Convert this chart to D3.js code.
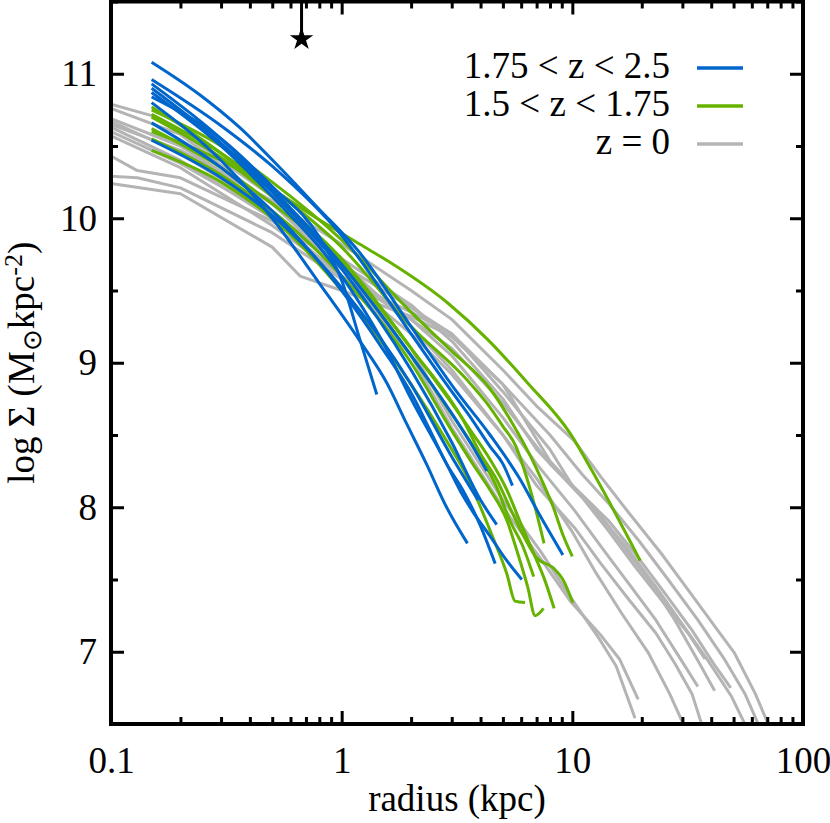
<!DOCTYPE html>
<html>
<head>
<meta charset="utf-8">
<script src="https://cdn.jsdelivr.net/npm/d3@7"></script>
<style>
  body { margin: 0; background: #fff; }
  text { font-family: "Liberation Serif", "Times New Roman", serif; fill: #000; }
</style>
</head>
<body>
<div id="chart"></div>
<script>
// surface density profiles, radius in kpc, log Sigma in Msun/kpc^2

var blueCurves = [
  [[0.15,11.08],[0.24,10.86],[0.36,10.63],[0.54,10.35],[0.78,10.08],[1.2,9.76],[2,9.25],[3.15,8.8],[4.4,8.5],[5.9,8.2],[7.2,7.95],[9.1,7.67]],
  [[0.15,10.96],[0.3,10.64],[0.5,10.36],[1,9.88],[2,9.2],[2.85,8.85],[3.7,8.6],[4.4,8.42],[5,8.3],[5.5,8.15]],
  [[0.15,10.93],[0.3,10.55],[0.5,10.2],[1,9.68],[2,9.05],[3,8.65],[3.7,8.42],[4.26,8.25]],
  [[0.15,10.84],[0.3,10.55],[0.5,10.22],[0.8,9.87],[1,9.57],[1.2,9.16],[1.42,8.78]],
  [[0.15,10.8],[0.3,10.4],[0.5,10.0],[0.8,9.55],[1.2,9.15],[1.57,8.86],[1.91,8.58],[2.33,8.3],[2.85,8.0],[3.51,7.75]],
  [[0.15,10.66],[0.3,10.35],[0.5,10.05],[1,9.5],[1.5,9.1],[2.05,8.76],[2.42,8.53],[2.85,8.3],[3.35,8.12],[4.0,7.87],[4.63,7.61]],
  [[0.15,10.87],[0.3,10.5],[0.5,10.15],[1,9.6],[1.5,9.15],[2,8.75],[2.85,8.3],[3.3,8.1],[3.7,7.97],[4.4,7.8],[5.2,7.63],[6.04,7.5]],
  [[0.15,10.9],[0.3,10.52],[0.5,10.18],[1,9.65],[2,8.95],[3,8.45],[4,8.05],[4.7,7.88]],
  [[0.15,10.54],[0.3,10.28],[0.5,10.02],[1,9.52],[2,8.85],[3,8.35],[3.9,8.05]]
];

var greenCurves = [
  [[0.15,10.6],[0.3,10.4],[0.5,10.2],[0.8,9.99],[1.2,9.82],[1.6,9.7],[2.9,9.41],[4.3,9.16],[6.4,8.86],[9.8,8.51],[12.3,8.24],[19.7,7.63]],
  [[0.15,10.47],[0.3,10.25],[0.5,10.0],[1,9.5],[2,8.85],[2.85,8.46],[3.37,8.26],[4,8.0],[4.5,7.8],[5.2,7.54],[5.65,7.35],[6.24,7.34]],
  [[0.15,10.55],[0.3,10.3],[0.5,10.05],[1,9.6],[2,9.0],[3,8.53],[3.7,8.3],[4.4,8.12],[5.2,7.91],[5.8,7.68],[6.4,7.45],[6.9,7.25],[7.5,7.3]],
  [[0.15,10.62],[0.3,10.35],[0.5,10.1],[1,9.7],[2,9.1],[3,8.72],[3.7,8.51],[4.4,8.33],[5.2,8.12],[5.9,7.91],[6.8,7.68],[7.5,7.52],[8.34,7.3]],
  [[0.15,10.7],[0.3,10.42],[0.5,10.15],[1,9.72],[2,9.1],[3.37,8.6],[4,8.37],[4.7,8.19],[5.5,7.96],[6.3,7.77],[7,7.65],[8.27,7.58],[9.1,7.5],[10.05,7.34]],
  [[0.15,10.77],[0.3,10.45],[0.5,10.15],[1,9.68],[2,9.05],[3.14,8.6],[3.98,8.35],[4.7,8.14],[5.35,7.91],[6.1,7.73],[6.8,7.52]],
  [[0.15,10.72],[0.3,10.45],[0.5,10.2],[1,9.8],[2,9.25],[3.5,8.88],[4.26,8.72],[5,8.56],[5.7,8.42],[6.3,8.22],[7,7.96],[7.54,7.75]],
  [[0.15,10.75],[0.3,10.5],[0.5,10.25],[1,9.85],[2,9.35],[3,9.08],[4.4,8.82],[5.5,8.58],[6.6,8.35],[7.5,8.16],[8.27,8.0],[9.1,7.81],[10,7.66]]
];

var grayCurves = [
  [[0.1,10.79],[0.15,10.71],[0.2,10.6],[0.5,10.15],[1,9.72],[2,9.1],[3,8.6],[5,8.05],[7.25,7.7],[9.8,7.38],[13.2,7.08],[15.5,6.9],[18.7,6.54]],
  [[0.1,10.76],[0.2,10.58],[0.5,10.1],[1,9.65],[2,9.05],[3,8.55],[5,8.0],[7.25,7.65],[9.8,7.35],[13.2,7.12],[16,6.95],[19.3,6.67]],
  [[0.1,10.69],[0.2,10.5],[0.5,10.1],[1,9.7],[2,9.25],[3,8.95],[5,8.5],[7,8.2],[9.9,7.84],[12.5,7.56],[16.3,7.27],[21.4,6.99],[26.4,6.71],[31.3,6.45]],
  [[0.1,10.67],[0.2,10.45],[0.5,10.05],[1,9.65],[2,9.3],[3,9.05],[5,8.62],[7,8.3],[10.2,7.98],[13.3,7.73],[17.6,7.47],[23,7.22],[29.7,6.94],[35,6.76]],
  [[0.1,10.63],[0.2,10.4],[0.5,10.0],[1,9.6],[2,9.2],[3,8.92],[5,8.5],[7,8.15],[10.2,7.86],[13.3,7.61],[17.6,7.36],[23,7.13],[27.8,6.92],[33,6.71],[37.2,6.45]],
  [[0.1,10.6],[0.2,10.38],[0.5,10.02],[1,9.72],[2,9.4],[3,9.15],[5,8.75],[7,8.4],[11,8.07],[14.3,7.84],[18.7,7.59],[24.3,7.36],[31.7,7.13],[37.6,6.95]],
  [[0.1,10.57],[0.2,10.35],[0.5,9.95],[1,9.6],[2,9.3],[3,9.1],[5,8.72],[8,8.3],[12.5,8.0],[16.3,7.75],[21.4,7.5],[27.8,7.22],[35,6.94],[41.4,6.73]],
  [[0.1,10.43],[0.13,10.33],[0.2,10.28],[0.5,9.98],[1,9.68],[2,9.38],[3,9.2],[5,8.8],[8,8.4],[10,8.15],[14.3,7.91],[18.7,7.68],[25.3,7.4],[33,7.15],[41.7,6.9],[48.6,6.75]],
  [[0.1,10.29],[0.13,10.28],[0.2,10.21],[0.5,9.9],[1,9.58],[2,9.35],[3,9.2],[5,8.85],[8,8.32],[12.5,7.98],[17,7.73],[23,7.45],[29.7,7.2],[38.7,6.94],[49,6.69],[58,6.45]],
  [[0.1,10.24],[0.2,10.17],[0.5,9.8],[0.66,9.6],[1,9.5],[2,9.32],[3,9.18],[5,8.85],[8,8.5],[11,8.23],[14.3,8.03],[19.4,7.77],[26,7.5],[35,7.22],[46,6.94],[56,6.71],[66,6.45]],
  [[0.1,10.65],[0.2,10.47],[0.5,10.12],[1,9.82],[2,9.5],[3,9.3],[5,8.95],[7,8.7],[10.2,8.46],[13.3,8.21],[17.6,7.96],[24.3,7.68],[31.7,7.43],[41.7,7.17],[50.5,6.99],[62.1,6.71],[72.8,6.45]]
];

var legendLabels = ["1.75 < z < 2.5", "1.5 < z < 1.75", "z = 0"];
var legendColors = ["#0066cc", "#66b200", "#b4b4b4"];

var xMajor = [0.1, 1, 10, 100];
var xMajorLabels = ["0.1", "1", "10", "100"];
var yMajor = [7, 8, 9, 10, 11];

var star = {r: 0.67, v: 11.24};

var margin = {top: 1.5, right: 27, bottom: 99, left: 111},
    width = 830 - margin.left - margin.right,
    height = 823 - margin.top - margin.bottom;

var x = d3.scaleLog().domain([0.1, 100]).range([0, width]);
var y = d3.scaleLinear().domain([6.5, 11.5]).range([height, 0]);

var svg = d3.select("#chart").append("svg")
    .attr("width", 830)
    .attr("height", 823)
  .append("g")
    .attr("transform", "translate(" + margin.left + "," + margin.top + ")");

svg.append("clipPath").attr("id", "clip")
  .append("rect").attr("width", width).attr("height", height);

var line = d3.line()
    .x(function(d) { return x(d[0]); })
    .y(function(d) { return y(d[1]); });

var plot = svg.append("g").attr("clip-path", "url(#clip)");

function drawGroup(curves, color, curve) {
  plot.append("g").selectAll("path")
      .data(curves)
    .enter().append("path")
      .attr("d", line.curve(curve))
      .attr("fill", "none")
      .attr("stroke", color)
      .attr("stroke-width", 3)
      .attr("stroke-linejoin", "round");
}

drawGroup(grayCurves, legendColors[2], d3.curveLinear);
drawGroup(greenCurves, legendColors[1], d3.curveMonotoneX);
drawGroup(blueCurves, legendColors[0], d3.curveMonotoneX);

// minor ticks
var xMinor = [];
[0.1, 1, 10].forEach(function(dec) {
  for (var k = 2; k <= 9; k++) xMinor.push(dec * k);
});
var yMinor = [6.5, 7.5, 8.5, 9.5, 10.5, 11.5];

function styleAxis(g) {
  g.select(".domain").remove();
  g.selectAll(".tick line").attr("stroke", "#000").attr("stroke-width", 3);
  g.selectAll("text").style("font-size", "37px").attr("fill", "#000");
}

svg.append("g")
    .attr("transform", "translate(0," + height + ")")
    .call(d3.axisBottom(x).tickValues(xMajor).tickSize(-13).tickPadding(23)
      .tickFormat(function(d, i) { return xMajorLabels[i]; }))
    .call(styleAxis);
svg.append("g")
    .attr("transform", "translate(0," + height + ")")
    .call(d3.axisBottom(x).tickValues(xMinor).tickSize(-7).tickFormat(""))
    .call(styleAxis);
svg.append("g")
    .call(d3.axisTop(x).tickValues(xMajor).tickSize(-13).tickFormat(""))
    .call(styleAxis);
svg.append("g")
    .call(d3.axisTop(x).tickValues(xMinor).tickSize(-7).tickFormat(""))
    .call(styleAxis);

svg.append("g")
    .call(d3.axisLeft(y).tickValues(yMajor).tickSize(-13).tickPadding(14)
      .tickFormat(d3.format("d")))
    .call(styleAxis);
svg.append("g")
    .call(d3.axisLeft(y).tickValues(yMinor).tickSize(-7).tickFormat(""))
    .call(styleAxis);
svg.append("g")
    .attr("transform", "translate(" + width + ",0)")
    .call(d3.axisRight(y).tickValues(yMajor).tickSize(-13).tickFormat(""))
    .call(styleAxis);
svg.append("g")
    .attr("transform", "translate(" + width + ",0)")
    .call(d3.axisRight(y).tickValues(yMinor).tickSize(-7).tickFormat(""))
    .call(styleAxis);

// frame
svg.append("rect")
    .attr("width", width)
    .attr("height", height)
    .attr("fill", "none")
    .attr("stroke", "#000")
    .attr("stroke-width", 4);

// star marker hanging from top axis
svg.append("line")
    .attr("x1", x(star.r)).attr("x2", x(star.r))
    .attr("y1", y(11.5)).attr("y2", y(star.v))
    .attr("stroke", "#000")
    .attr("stroke-width", 3);
svg.append("path")
    .attr("d", d3.symbol(d3.symbolStar, 170)())
    .attr("transform", "translate(" + x(star.r) + "," + y(star.v) + ")")
    .attr("fill", "#000");

// legend
var legend = svg.append("g").attr("transform", "translate(" + (670 - margin.left) + ",0)");
legendLabels.forEach(function(lab, i) {
  var ly = 68 + i * 38 - margin.top;
  legend.append("text")
      .attr("x", 0)
      .attr("y", ly + 10)
      .attr("text-anchor", "end")
      .style("font-size", "37px")
      .text(lab);
  legend.append("line")
      .attr("x1", 27).attr("x2", 73)
      .attr("y1", ly).attr("y2", ly)
      .attr("stroke", legendColors[i])
      .attr("stroke-width", 3.5);
});

// axis titles
svg.append("text")
    .attr("x", width / 2)
    .attr("y", 811 - margin.top)
    .attr("text-anchor", "middle")
    .style("font-size", "37px")
    .text("radius (kpc)");

var yt = svg.append("text")
    .attr("transform", "translate(" + (34 - margin.left) + "," + (height / 2) + ") rotate(-90)")
    .attr("text-anchor", "middle")
    .style("font-size", "37px");
yt.append("tspan").text("log \u03A3 (M");
yt.append("tspan").attr("baseline-shift", "-25%").style("font-size", "26px").text("\u2299");
yt.append("tspan").text("kpc");
yt.append("tspan").attr("baseline-shift", "45%").style("font-size", "26px").text("-2");
yt.append("tspan").text(")");
</script>
</body>
</html>
